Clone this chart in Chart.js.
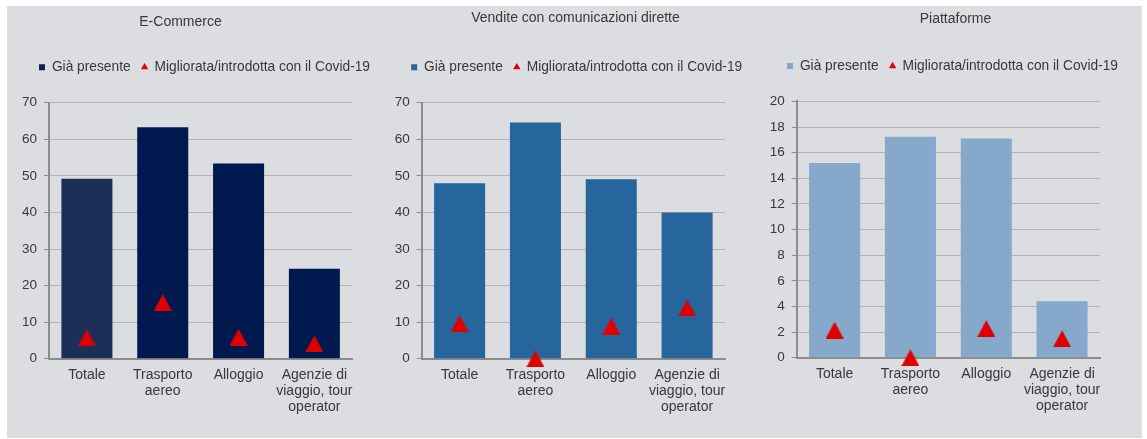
<!DOCTYPE html>
<html>
<head>
<meta charset="utf-8">
<script src="https://cdn.jsdelivr.net/npm/chart.js@4.4.1/dist/chart.umd.min.js"></script>
<style>
  html, body { margin: 0; padding: 0; background: #ffffff; }
  body { width: 1147px; height: 439px; position: relative; overflow: hidden; }
  #backdrop { position: absolute; left: 7px; top: 6px; width: 1135px; height: 432px; background: #dcdde0; }
  canvas { position: absolute; top: 6px; }
</style>
</head>
<body>
<div id="backdrop"></div>
<canvas id="ecommerce" width="373" height="432" style="left:7px"></canvas>
<canvas id="vendite" width="380" height="432" style="left:380px"></canvas>
<canvas id="piattaforme" width="382" height="432" style="left:760px"></canvas>
<script>
// Categories and series (percentages of firms)
const categories = ['Totale', ['Trasporto', 'aereo'], 'Alloggio', ['Agenzie di', 'viaggio, tour', 'operator']];
const seriesNames = ['Già presente', 'Migliorata/introdotta con il Covid-19'];

const ecommerceGia = [49.2, 63.3, 53.4, 24.6];
const ecommerceCovid = [5.7, 15.4, 5.9, 4.1];

const venditeGia = [48.0, 64.6, 49.1, 40.0];
const venditeCovid = [9.6, 0.0, 8.9, 13.9];

const piattaformeGia = [15.2, 17.25, 17.1, 4.4];
const piattaformeCovid = [2.15, 0.0, 2.28, 1.48];

// Y-axis tick labels for each panel
const ticks70 = [0, 10, 20, 30, 40, 50, 60, 70];
const ticks20 = [0, 2, 4, 6, 8, 10, 12, 14, 16, 18, 20];

const TEXT = '#383838';
const RED = '#e00000';
const FONT = "'Liberation Sans', Arial, Helvetica, sans-serif";

Chart.defaults.font.family = FONT;
Chart.defaults.font.size = 14;
Chart.defaults.color = TEXT;

// Red triangle marker, centred on its bounding box
function triangleMarker(w, h, color) {
  const c = document.createElement('canvas');
  c.width = w; c.height = h;
  const g = c.getContext('2d');
  g.fillStyle = color;
  g.beginPath();
  g.moveTo(w / 2, 0);
  g.lineTo(w, h);
  g.lineTo(0, h);
  g.closePath();
  g.fill();
  return c;
}
const triImg = triangleMarker(18, 17, RED);

// Places the title and the legend row at given horizontal centres and
// leaves extra room under the legend.
const headerPlacement = {
  id: 'headerPlacement',
  beforeInit(chart, args, opts) {
    const lg = chart.legend;
    if (!lg) return;
    const fit = lg.fit;
    lg.fit = function () {
      const mw = this.maxWidth;
      this.maxWidth = Math.max(mw, 440);
      fit.call(this);
      this.maxWidth = mw;
      this.height += opts.legendGap || 0;
    };
  },
  afterLayout(chart, args, opts) {
    const centre = (box, cx, half) => { box.left = cx - half; box.right = cx + half; box.width = 2 * half; };
    if (chart.titleBlock && opts.titleX != null) centre(chart.titleBlock, opts.titleX, 160);
    if (chart.legend && opts.legendX != null) centre(chart.legend, opts.legendX, 220);
  }
};

function legendLabels(chart) {
  const items = Chart.defaults.plugins.legend.labels.generateLabels(chart);
  items.forEach(it => {
    const ds = chart.data.datasets[it.datasetIndex];
    it.pointStyle = ds.legendMarker;
    it.fillStyle = ds.legendColor;
    it.strokeStyle = ds.legendColor;
    it.lineWidth = 0;
  });
  return items.sort((a, b) => a.datasetIndex - b.datasetIndex);
}

function panel(id, p) {
  const tk = p.ticks;
  new Chart(document.getElementById(id), {
    data: {
      labels: categories,
      datasets: [
        {
          type: 'bar',
          label: seriesNames[0],
          data: p.gia,
          backgroundColor: p.barColors,
          borderWidth: 0,
          barPercentage: 0.673,
          categoryPercentage: 1,
          order: 1,
          legendMarker: 'rect',
          legendColor: p.legendColor
        },
        {
          type: 'line',
          label: seriesNames[1],
          data: p.covid,
          showLine: false,
          pointStyle: triImg,
          pointRadius: 9,
          backgroundColor: RED,
          borderColor: RED,
          borderWidth: 0,
          clip: false,
          order: 0,
          legendMarker: 'triangle',
          legendColor: RED
        }
      ]
    },
    options: {
      responsive: false,
      animation: false,
      events: [],
      layout: { padding: { left: 0, right: p.padRight, top: 0, bottom: 0 } },
      plugins: {
        tooltip: { enabled: false },
        title: {
          display: true,
          text: p.title,
          color: TEXT,
          font: { size: 14, weight: 'normal' },
          padding: { top: p.titleTop, bottom: p.titleBottom }
        },
        legend: {
          display: true,
          position: 'top',
          labels: {
            usePointStyle: true,
            boxWidth: 6,
            boxHeight: 6,
            padding: 11,
            color: TEXT,
            font: { size: 13.75 },
            generateLabels: legendLabels
          }
        },
        headerPlacement: { titleX: p.titleX, legendX: p.legendX, legendGap: p.legendGap }
      },
      scales: {
        x: {
          offset: true,
          grid: { display: true, color: 'rgba(0,0,0,0)', drawTicks: false },
          border: { display: true, color: '#8c8c8c', width: 2 },
          ticks: {
            color: TEXT,
            font: { size: 14, lineHeight: 1.143 },
            padding: 8.5,
            maxRotation: 0,
            minRotation: 0,
            autoSkip: false
          },
          afterFit(s) { s.height = p.xHeight; }
        },
        y: {
          min: tk[0],
          max: tk[tk.length - 1],
          ticks: { stepSize: tk[1] - tk[0], color: TEXT, font: { size: 13.5 }, padding: 7 },
          grid: { color: '#b4b4b4', lineWidth: 1, tickColor: '#8c8c8c', tickLength: 5 },
          border: { display: true, color: '#8c8c8c', width: 2 },
          afterFit(s) { s.width = p.yWidth; }
        }
      }
    },
    plugins: [headerPlacement]
  });
}

panel('ecommerce', {
  title: 'E-Commerce',
  gia: ecommerceGia,
  covid: ecommerceCovid,
  ticks: ticks70,
  barColors: ['#1c2f57', '#001a50', '#001a50', '#001a50'],
  legendColor: '#0b2152',
  titleX: 173.5, legendX: 197.5,
  titleTop: 7.45, titleBottom: 19.0, legendGap: 18.75,
  yWidth: 42, padRight: 27.7, xHeight: 79.3
});

panel('vendite', {
  title: 'Vendite con comunicazioni dirette',
  gia: venditeGia,
  covid: venditeCovid,
  ticks: ticks70,
  barColors: '#27659d',
  legendColor: '#27659d',
  titleX: 195.5, legendX: 196.7,
  titleTop: 4.05, titleBottom: 22.4, legendGap: 18.75,
  yWidth: 41.7, padRight: 35, xHeight: 79.3
});

panel('piattaforme', {
  title: 'Piattaforme',
  gia: piattaformeGia,
  covid: piattaformeCovid,
  ticks: ticks20,
  barColors: '#86a8ca',
  legendColor: '#86a8ca',
  titleX: 195.5, legendX: 192.5,
  titleTop: 4.75, titleBottom: 20.65, legendGap: 18.5,
  yWidth: 36.7, padRight: 42, xHeight: 80.3
});
</script>
</body>
</html>
